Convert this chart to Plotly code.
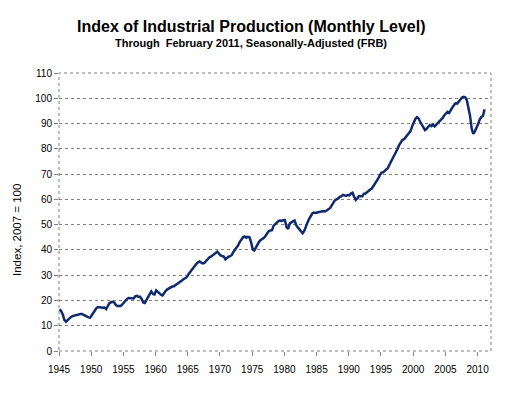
import pandas as pd
import plotly.graph_objects as go

# Quarterly readings of the Industrial Production index (2007 = 100), 1945 - early 2011
ip_1945_1959 = [
    16.5, 15.8, 14.5, 12.3,
    11.6, 12.2, 13.0, 13.4,
    13.8, 14.0, 14.0, 14.3,
    14.5, 14.6, 14.6, 14.3,
    13.8, 13.4, 13.3, 13.2,
    14.2, 15.3, 16.5, 17.0,
    17.4, 17.3, 17.0, 17.1,
    17.2, 16.6, 17.8, 18.9,
    19.3, 19.5, 19.2, 18.2,
    17.8, 17.7, 17.8, 18.4,
    19.3, 20.2, 20.7, 21.0,
    21.0, 20.9, 20.8, 21.6,
    21.8, 21.5, 21.5, 20.6,
    19.2, 19.0, 20.2, 21.0,
    22.2, 23.6, 22.6, 22.4,
]
ip_1960_1979 = [
    24.0, 23.4, 23.0, 22.3,
    22.0, 23.0, 23.8, 24.4,
    24.8, 25.2, 25.5, 25.6,
    26.0, 26.7, 27.0, 27.3,
    27.9, 28.4, 28.9, 29.2,
    30.3, 31.2, 32.0, 32.8,
    33.8, 34.5, 35.1, 35.4,
    35.0, 34.7, 34.9, 35.6,
    36.4, 37.0, 37.3, 37.8,
    38.5, 39.0, 39.3, 38.6,
    37.8, 37.6, 37.4, 36.3,
    37.0, 37.3, 37.5, 38.0,
    39.2, 40.0, 40.8, 41.9,
    43.2, 44.2, 45.0, 45.3,
    44.8, 45.2, 45.0, 43.0,
    40.2, 39.8, 41.2, 42.2,
    43.3, 43.9, 44.2, 44.8,
    45.6, 46.8, 47.5, 47.7,
    47.8, 49.6, 50.2, 51.0,
    51.4, 51.6, 51.5, 51.7,
]
ip_1980_1999 = [
    51.8, 49.0, 48.3, 50.4,
    51.0, 51.3, 51.6, 49.8,
    48.9, 48.0, 47.5, 46.6,
    47.5, 48.8, 50.8, 52.2,
    53.6, 54.4, 54.8, 54.6,
    54.8, 55.0, 54.9, 55.4,
    55.4, 55.2, 55.6, 56.0,
    56.5, 57.5, 58.9, 59.6,
    60.0, 60.3, 61.0, 61.2,
    61.8, 61.7, 61.4, 61.7,
    61.6, 62.3, 62.6, 61.0,
    59.8, 60.4, 61.3, 61.2,
    61.2, 62.2, 62.3, 62.8,
    63.6, 63.9, 64.3, 65.2,
    66.2, 67.3, 68.3, 69.6,
    70.6, 70.7, 71.4, 71.8,
    72.4, 73.8, 75.0, 76.0,
    77.2, 78.5, 80.0, 81.6,
    82.9, 83.5, 83.8, 84.7,
    85.3, 86.2, 87.0, 88.9,
]
ip_2000_2011 = [
    90.5, 91.8, 92.5, 92.0,
    90.7, 89.6, 88.2, 87.4,
    87.9, 88.9, 89.4, 89.0,
    89.6, 88.9, 89.6, 90.3,
    90.7, 91.8, 92.2, 93.3,
    94.2, 94.6, 94.2, 95.6,
    96.4, 97.2, 98.0, 97.9,
    98.6, 99.7, 100.3, 100.6,
    100.4, 99.2, 96.5, 93.0,
    88.0, 85.9, 86.9, 88.1,
    89.8, 91.6, 92.6, 93.0,
    95.6,
]
values = ip_1945_1959 + ip_1960_1979 + ip_1980_1999 + ip_2000_2011
dates = pd.date_range("1945-02-01", periods=len(values), freq="3MS")

y_ticks = list(range(0, 111, 10))
x_tick_years = list(range(1945, 2011, 5))

FONT = "Arial, Liberation Sans, sans-serif"
GRID = "#7f7f7f"

fig = go.Figure()
fig.add_trace(go.Scatter(
    x=dates, y=values, mode="lines",
    line=dict(color="#0f2a6e", width=2.5),
    hoverinfo="skip", showlegend=False,
))

fig.update_layout(
    width=508, height=395,
    margin=dict(l=59, r=17, t=73, b=44),
    paper_bgcolor="white", plot_bgcolor="white",
    font=dict(family=FONT, size=10, color="#000000"),
    showlegend=False,
)
fig.update_xaxes(
    type="date",
    range=["1945-01-01", "2012-02-01"],
    tickvals=[pd.Timestamp(f"{y}-01-01") for y in x_tick_years],
    ticktext=[str(y) for y in x_tick_years],
    ticks="outside", ticklen=4, tickcolor=GRID, tickwidth=1,
    ticklabelstandoff=5,
    showgrid=False, showline=False, zeroline=False,
    tickfont=dict(family=FONT, size=10),
)
fig.update_yaxes(
    range=[0, 110],
    tickvals=y_ticks,
    ticks="outside", ticklen=4, tickcolor=GRID, tickwidth=1,
    showgrid=True, gridcolor=GRID, griddash="dot", gridwidth=1,
    showline=False, zeroline=False,
    tickfont=dict(family=FONT, size=10),
)
# plot frame (dotted, like the source)
fig.add_shape(type="rect", xref="paper", yref="paper", x0=0, x1=1, y0=0, y1=1,
              line=dict(color=GRID, width=1, dash="dot"), layer="above")

fig.add_annotation(
    text="<b>Index of Industrial Production (Monthly Level)</b>",
    xref="paper", yref="paper", x=(250.5 - 59) / 432, y=(351 - 27) / 278,
    xanchor="center", yanchor="middle", showarrow=False,
    font=dict(family=FONT, size=16, color="#000000"),
)
fig.add_annotation(
    text="<b>Through  February 2011, Seasonally-Adjusted (FRB)</b>",
    xref="paper", yref="paper", x=(250.5 - 59) / 432, y=(351 - 43) / 278,
    xanchor="center", yanchor="middle", showarrow=False,
    font=dict(family=FONT, size=11, color="#000000"),
)
fig.add_annotation(
    text="Index, 2007 = 100",
    xref="paper", yref="paper", x=(17 - 59) / 432, y=(351 - 230) / 278,
    xanchor="center", yanchor="middle", showarrow=False, textangle=-90,
    font=dict(family=FONT, size=11.5, color="#000000"),
)

fig.write_html("out.html", config={"displayModeBar": False},
               post_script="document.body.style.margin='0px';")
